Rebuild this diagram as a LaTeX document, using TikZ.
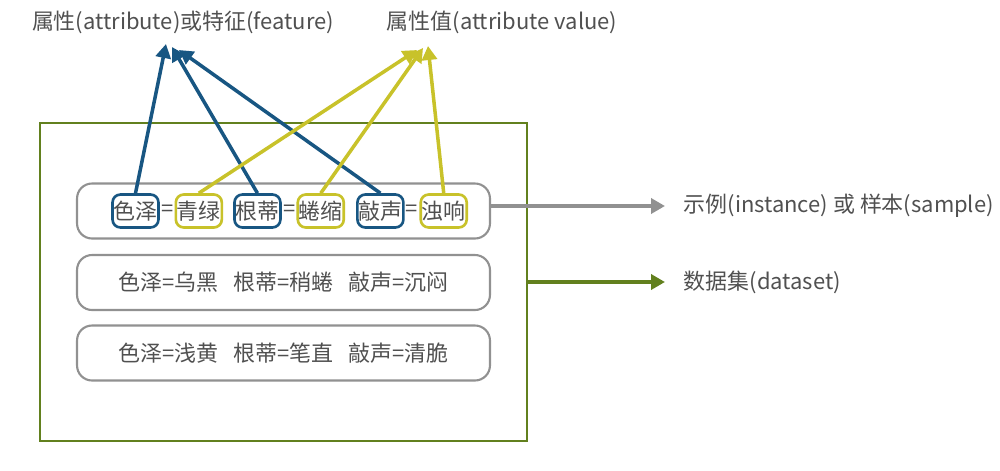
\documentclass[tikz,border=0pt]{standalone}
\usepackage{fontspec}
\setmainfont{Noto Sans CJK SC}
\usepackage{tikz}
\usetikzlibrary{positioning,arrows.meta}
\definecolor{keyblue}{RGB}{24,86,130}
\definecolor{valyellow}{RGB}{200,194,42}
\definecolor{setgreen}{RGB}{98,128,30}
\definecolor{rowgray}{RGB}{145,145,145}
\definecolor{txtgray}{RGB}{80,80,80}
\tikzset{ txt/.style={text=txtgray,font=\fontsize{12.5}{15}\selectfont,inner sep=2pt},
  key/.style={txt,draw=keyblue,line width=1.5pt,rounded corners=0.16cm,minimum width=0.92cm,minimum height=0.66cm,inner sep=0pt},
  val/.style={key,draw=valyellow},
  eq/.style={txt,inner sep=0pt,minimum width=0.28cm},
  row/.style={txt,draw=rowgray,line width=1.2pt,rounded corners=0.3cm,minimum width=8.26cm,minimum height=1.1cm},
  keyarr/.style={draw=keyblue,line width=2pt,-{Triangle[length=0.28cm,width=0.3cm]}},
  valarr/.style={keyarr,draw=valyellow} }

\begin{document}
\begin{tikzpicture}[x=0.02cm,y=-0.02cm]
   \useasboundingbox (0,0) rectangle (1000,470);
   \node[draw=setgreen,line width=1.3pt,minimum width=9.74cm,minimum height=6.36cm] (ds) at (283.5,282) {};
   % rows
   \node[row] (r1) at (283.5,211) {};
   \node[row] (r2) at (283.5,282.5) {色泽=乌黑\hspace{0.3cm}根蒂=稍蜷\hspace{0.3cm}敲声=沉闷};
   \node[row] (r3) at (283.5,353) {色泽=浅黄\hspace{0.3cm}根蒂=笔直\hspace{0.3cm}敲声=清脆};
   \node[key] (k1) at (135.5,211) {色泽};
   \node[eq,right=0pt of k1] (e1) {=};
   \node[val,right=0pt of e1] (v1) {青绿};
   \node[key,right=0.2cm of v1] (k2) {根蒂};
   \node[eq,right=0pt of k2] (e2) {=};
   \node[val,right=0pt of e2] (v2) {蜷缩};
   \node[key,right=0.22cm of v2] (k3) {敲声};
   \node[eq,right=0pt of k3] (e3) {=};
   \node[val,right=0pt of e3] (v3) {浊响};
   % labels
   \node[txt] (attr) at (183,22) {属性(attribute)或特征(feature)};
   \node[txt] (attrval) at (502,22) {属性值(attribute value)};
   \coordinate (a1) at (166,44);
   \coordinate (a2) at (172,47);
   \coordinate (a3) at (179,50);
   \coordinate (b1) at (417,50);
   \coordinate (b2) at (423,48);
   \coordinate (b3) at (428,46);
   \coordinate (i) at (665,206);
   \coordinate (d) at (665,282);
   \node[txt,right=0.3cm of i] (inst) {示例(instance) 或 样本(sample)};
   \node[txt,right=0.3cm of d] (set) {数据集(dataset)};
   \foreach \k/\t in {k1/a1,k2/a2,k3/a3} \draw[keyarr] (\k.north) -- (\t);
   \foreach \v/\t in {v1/b1,v2/b2,v3/b3} \draw[valarr] (\v.north) -- (\t);
   \draw[keyarr,draw=rowgray] (r1.east |- i) -- (i);
   \draw[keyarr,draw=setgreen] (ds.east) -- (d);
\end{tikzpicture}
\end{document}
